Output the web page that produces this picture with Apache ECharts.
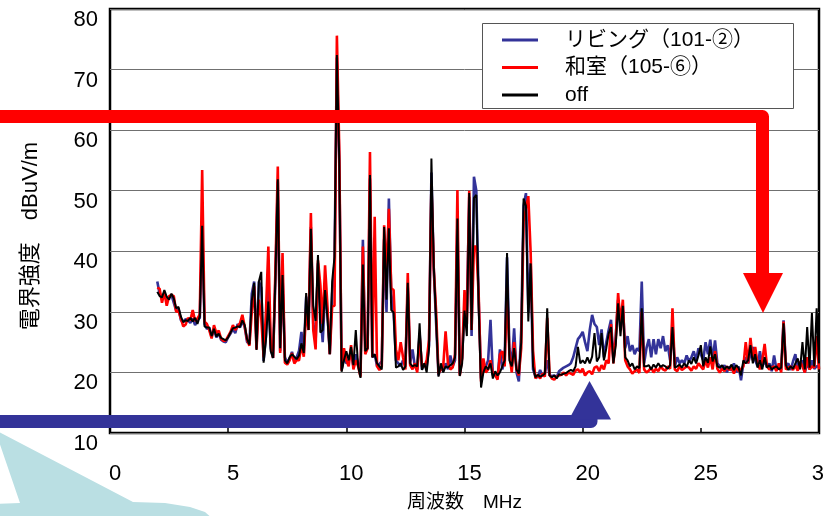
<!DOCTYPE html>
<html>
<head>
<meta charset="utf-8">
<script src="https://cdn.jsdelivr.net/npm/echarts@6/dist/echarts.min.js"></script>
<style>
  html, body { margin: 0; padding: 0; background: #fff; }
  #chart { width: 823px; height: 516px; }
</style>
</head>
<body>
<div id="chart"></div>
<script>
// Frequency points (MHz)
const freq = [
  2.0,2.1,2.2,2.3,2.4,2.5,2.6,2.7,2.8,2.9,
  3.0,3.1,3.2,3.3,3.4,3.5,3.6,3.7,3.8,3.9,
  4.0,4.1,4.2,4.3,4.4,4.5,4.6,4.7,4.8,4.9,
  5.0,5.1,5.2,5.3,5.4,5.5,5.6,5.7,5.8,5.9,
  6.0,6.1,6.2,6.3,6.4,6.5,6.6,6.7,6.8,6.9,
  7.0,7.1,7.2,7.3,7.4,7.5,7.6,7.7,7.8,7.9,
  8.0,8.1,8.2,8.3,8.4,8.5,8.6,8.7,8.8,8.9,
  9.0,9.1,9.2,9.3,9.4,9.5,9.6,9.7,9.8,9.9,
  10.0,10.1,10.2,10.3,10.4,10.5,10.6,10.7,10.8,10.9,
  11.0,11.1,11.2,11.3,11.4,11.5,11.6,11.7,11.8,11.9,
  12.0,12.1,12.2,12.3,12.4,12.5,12.6,12.7,12.8,12.9,
  13.0,13.1,13.2,13.3,13.4,13.5,13.6,13.7,13.8,13.9,
  14.0,14.1,14.2,14.3,14.4,14.5,14.6,14.7,14.8,14.9,
  15.0,15.1,15.2,15.3,15.4,15.5,15.6,15.7,15.8,15.9,
  16.0,16.1,16.2,16.3,16.4,16.5,16.6,16.7,16.8,16.9,
  17.0,17.1,17.2,17.3,17.4,17.5,17.6,17.7,17.8,17.9,
  18.0,18.1,18.2,18.3,18.4,18.5,18.6,18.7,18.8,18.9,
  19.0,19.1,19.2,19.3,19.4,19.5,19.6,19.7,19.8,19.9,
  20.0,20.1,20.2,20.3,20.4,20.5,20.6,20.7,20.8,20.9,
  21.0,21.1,21.2,21.3,21.4,21.5,21.6,21.7,21.8,21.9,
  22.0,22.1,22.2,22.3,22.4,22.5,22.6,22.7,22.8,22.9,
  23.0,23.1,23.2,23.3,23.4,23.5,23.6,23.7,23.8,23.9,
  24.0,24.1,24.2,24.3,24.4,24.5,24.6,24.7,24.8,24.9,
  25.0,25.1,25.2,25.3,25.4,25.5,25.6,25.7,25.8,25.9,
  26.0,26.1,26.2,26.3,26.4,26.5,26.6,26.7,26.8,26.9,
  27.0,27.1,27.2,27.3,27.4,27.5,27.6,27.7,27.8,27.9,
  28.0,28.1,28.2,28.3,28.4,28.5,28.6,28.7,28.8,28.9,
  29.0,29.1,29.2,29.3,29.4,29.5,29.6,29.7,29.8,29.9,
  30.0
];

// リビング（101-②） field strength, dBuV/m
const living = [
  35.0,33.0,32.6,32.8,32.0,32.4,32.8,31.5,30.2,30.5,
  28.6,28.4,28.8,28.6,28.2,28.9,27.8,28.7,29.0,44.5,
  28.0,27.2,27.4,25.9,27.1,25.8,26.5,25.4,25.1,25.0,
  25.8,26.4,27.2,26.5,28.0,27.4,28.5,27.5,25.0,24.8,
  33.0,35.0,24.0,35.0,34.0,21.9,26.0,35.0,24.0,22.4,
  35.5,51.5,23.5,36.0,22.5,21.6,22.3,23.4,21.7,22.5,
  23.6,26.7,23.0,32.5,27.0,44.0,28.0,25.0,38.0,30.0,
  25.0,33.0,30.0,23.0,33.0,38.0,72.0,55.0,20.5,22.5,
  21.5,22.0,23.0,21.0,23.0,21.5,19.8,41.9,23.5,24.0,
  52.0,22.5,23.0,21.0,21.4,21.8,42.0,30.0,48.7,33.0,
  30.0,22.0,21.5,21.0,22.0,21.2,34.0,21.5,23.8,21.0,
  20.4,26.5,20.5,21.4,21.0,24.5,53.0,37.0,28.0,19.5,
  21.0,20.2,21.5,20.5,22.8,21.0,22.0,45.0,19.8,22.5,
  31.0,30.0,49.0,26.0,52.3,50.0,32.0,19.0,20.5,21.0,
  22.0,28.7,19.5,20.0,19.0,23.8,20.5,22.0,39.0,24.0,
  21.0,27.3,20.0,18.5,27.0,47.5,49.6,30.0,38.0,20.5,
  19.3,19.2,20.4,19.4,19.8,22.0,19.5,19.4,19.5,19.2,
  20.2,20.5,20.8,21.0,21.2,21.5,22.5,24.0,25.5,26.0,
  26.7,25.0,23.5,27.0,29.5,28.0,27.5,24.5,27.1,22.5,
  25.0,27.0,28.7,22.0,26.0,32.0,27.0,31.0,24.0,26.0,
  23.5,24.5,23.0,24.0,23.5,35.0,21.5,24.0,25.5,22.5,
  25.5,23.0,25.5,24.0,26.0,23.5,24.5,22.0,28.0,21.0,
  22.5,21.5,22.0,21.5,22.8,21.8,22.5,23.5,22.0,24.0,
  23.0,22.0,25.0,23.0,25.4,22.0,25.3,21.5,21.0,20.5,
  21.2,20.0,21.0,20.3,21.5,20.0,21.0,18.7,21.5,22.5,
  21.5,23.0,24.2,22.0,21.0,23.5,21.0,22.0,20.8,21.5,
  20.2,22.8,20.5,21.0,20.4,28.6,21.0,21.5,20.4,21.8,
  23.0,20.5,21.2,22.0,20.0,21.5,20.5,22.0,20.6,21.0,
  21.0
];

// 和室（105-⑥） field strength, dBuV/m
const washitsu = [
  34.0,33.8,31.5,33.2,31.0,32.6,32.8,32.6,30.0,30.2,
  28.9,27.6,27.9,29.0,28.6,30.3,28.5,28.9,29.6,53.4,
  28.4,28.0,27.0,25.6,27.8,26.5,26.9,25.6,25.2,25.3,
  26.0,26.7,27.8,27.0,27.6,28.1,29.5,27.6,25.4,24.4,
  30.0,34.2,23.8,32.0,29.0,22.5,30.0,40.8,24.8,22.4,
  37.0,54.0,23.2,39.7,21.6,21.3,22.0,23.2,21.5,22.0,
  22.0,24.5,22.6,30.5,27.0,46.3,27.0,23.8,38.5,34.5,
  28.0,37.7,31.0,23.0,30.9,31.0,75.6,57.0,20.3,24.0,
  22.0,21.0,24.5,20.5,22.0,21.0,19.3,40.8,23.0,24.0,
  56.4,22.5,45.7,21.0,20.4,21.0,44.3,36.0,47.0,33.9,
  33.6,23.8,22.0,25.0,22.5,20.5,36.4,21.2,20.5,21.5,
  20.0,26.0,21.0,21.0,22.0,25.4,51.0,37.1,30.0,19.8,
  20.5,21.0,26.8,21.5,20.5,20.8,23.0,50.1,19.5,22.3,
  33.6,28.0,50.0,27.0,40.8,40.8,32.8,18.5,22.3,20.0,
  20.5,22.0,19.8,19.5,18.8,23.0,23.5,21.0,34.0,23.0,
  20.0,25.0,20.5,19.5,24.0,45.0,47.0,49.1,39.7,23.6,
  19.0,19.6,19.0,19.8,19.3,29.0,19.6,19.0,18.8,19.3,
  19.5,19.6,20.0,19.5,20.0,19.8,19.6,20.3,20.5,20.0,
  20.6,19.5,20.0,20.2,19.7,20.8,21.0,20.2,21.2,20.5,
  22.0,21.5,28.0,21.5,25.5,33.1,28.0,32.0,22.0,21.0,
  20.5,19.8,20.2,20.5,19.9,30.0,20.5,20.0,20.3,20.8,
  20.0,20.6,20.2,21.0,20.5,20.3,21.0,20.6,30.6,20.5,
  20.2,21.0,20.4,20.7,21.0,20.8,20.3,21.0,20.6,21.5,
  21.0,20.5,22.0,20.8,22.5,20.5,23.5,20.6,20.0,20.6,
  20.2,21.0,20.4,20.8,19.8,21.0,20.2,20.5,21.0,25.0,
  21.5,25.7,22.0,24.2,21.5,20.5,22.0,24.7,21.0,20.5,
  20.8,21.0,20.2,21.5,20.0,28.4,20.5,20.8,21.0,20.4,
  21.2,20.3,21.8,21.0,20.0,22.5,20.5,21.0,20.8,26.0,
  20.5
];

// off (background) field strength, dBuV/m
const off = [
  33.3,32.6,32.4,33.6,32.5,32.0,33.0,32.2,30.6,30.8,
  29.2,28.3,28.6,28.5,29.0,28.4,29.0,28.0,29.3,44.2,
  27.6,27.4,27.4,26.0,27.2,25.9,26.4,25.7,25.5,25.3,
  25.8,26.6,27.3,27.4,27.6,27.5,28.6,27.8,25.5,24.6,
  31.8,34.8,23.7,35.0,36.6,21.6,25.5,31.7,23.5,22.4,
  35.8,51.9,24.0,36.1,22.0,21.5,22.5,23.0,22.6,22.2,
  22.8,24.8,23.2,33.1,27.0,43.7,31.0,28.5,39.4,26.6,
  27.0,33.6,29.0,23.0,35.0,39.1,72.4,55.1,20.1,22.0,
  23.5,22.0,24.2,21.2,27.0,21.0,19.1,37.8,23.5,24.0,
  52.6,22.5,23.0,21.5,21.0,20.5,44.0,32.0,43.8,30.3,
  29.9,20.8,21.0,21.5,20.4,21.0,34.8,21.5,21.0,21.2,
  21.0,28.1,20.4,21.5,20.0,24.0,55.3,37.5,28.6,19.3,
  21.5,20.0,21.0,20.8,21.2,21.5,22.5,45.4,19.4,21.5,
  30.2,26.0,49.6,27.0,48.8,49.3,30.9,17.5,20.0,21.0,
  20.5,21.5,19.0,20.2,19.5,20.0,21.0,22.0,39.7,22.0,
  21.0,24.0,20.5,19.8,25.0,48.7,47.5,28.4,38.0,21.0,
  19.2,19.6,19.3,19.5,19.8,30.6,19.5,19.2,19.5,19.0,
  19.7,19.6,19.8,19.9,20.2,20.4,20.2,21.0,24.2,21.5,
  22.0,21.5,22.5,21.5,22.6,26.5,21.8,22.5,26.5,22.0,
  24.0,26.4,27.5,21.5,24.5,31.4,26.0,31.0,22.5,22.0,
  21.0,21.5,20.5,21.0,20.7,30.6,21.0,21.0,21.2,20.5,
  21.3,20.8,21.5,20.9,21.2,21.0,20.6,21.2,27.5,20.8,
  21.0,21.3,20.8,21.5,20.9,22.0,21.4,22.5,21.5,22.8,
  24.5,21.0,22.5,21.6,24.3,21.8,23.0,21.0,20.8,21.2,
  20.5,21.0,20.6,21.3,20.4,21.2,20.7,19.5,22.0,21.5,
  22.0,24.5,21.5,23.0,20.8,22.0,20.5,22.5,20.8,21.2,
  20.5,20.8,21.0,20.5,20.8,28.1,21.2,20.4,21.0,20.6,
  21.5,22.3,20.5,25.0,20.5,27.5,20.8,29.8,21.0,30.6,
  21.5
];

const seriesNames = ['リビング（101-②）', '和室（105-⑥）', 'off'];
const seriesColors = ['#333399', '#ff0000', '#000000'];
const xTicks = [0, 5, 10, 15, 20, 25, 30];
const yTicks = [10, 20, 30, 40, 50, 60, 70, 80];

const LATIN = "'Liberation Sans', Arial, 'Noto Sans CJK JP', sans-serif";
const pairs = vals => freq.map((f, i) => [f, vals[i]]);

const chart = echarts.init(document.getElementById('chart'), null, { renderer: 'canvas' });

chart.setOption({
  animation: false,
  backgroundColor: '#ffffff',
  grid: {
    left: 110, right: 4, top: 9, bottom: 83,
    containLabel: false, outerBoundsMode: 'none',
    show: true, borderColor: '#000', borderWidth: 2.5, backgroundColor: '#fff'
  },
  legend: {
    orient: 'vertical',
    left: 482, top: 24,
    padding: [4, 10, 2, 20],
    itemWidth: 36, itemHeight: 3, itemGap: 3.5,
    icon: 'rect',
    data: seriesNames,
    textStyle: { fontFamily: LATIN, fontSize: 21, lineHeight: 24, color: '#000', padding: [0, 0, 0, 22] },
    z: 10
  },
  xAxis: {
    type: 'value',
    min: xTicks[0], max: xTicks[xTicks.length - 1], interval: 5,
    name: '周波数　MHz',
    nameLocation: 'middle', nameGap: 60,
    nameTextStyle: { fontFamily: LATIN, fontSize: 19, color: '#000' },
    axisLine: { show: false },
    axisTick: { show: true, inside: true, length: 5, lineStyle: { color: '#000', width: 1.5 } },
    axisLabel: {
      fontFamily: LATIN, fontSize: 22, color: '#000', margin: 30,
      padding: [0, 0, 0, 10], showMinLabel: true, showMaxLabel: true
    },
    splitLine: { show: false }
  },
  yAxis: {
    type: 'value',
    min: yTicks[0], max: yTicks[yTicks.length - 1], interval: 10,
    name: '電界強度　dBuV/m',
    nameLocation: 'middle', nameGap: 68, nameRotate: 90,
    nameTextStyle: { fontFamily: LATIN, fontSize: 22, color: '#000', padding: [0, 30, 0, 0] },
    axisLine: { show: false },
    axisTick: { show: false },
    axisLabel: {
      fontFamily: LATIN, fontSize: 22, color: '#000', margin: 12,
      verticalAlign: 'top', showMinLabel: true, showMaxLabel: true
    },
    splitLine: { show: true, lineStyle: { color: '#707070', width: 1 } }
  },
  series: [
    { name: seriesNames[0], type: 'line', data: pairs(living), showSymbol: false,
      color: seriesColors[0], lineStyle: { color: seriesColors[0], width: 2.6 }, z: 2 },
    { name: seriesNames[1], type: 'line', data: pairs(washitsu), showSymbol: false,
      color: seriesColors[1], lineStyle: { color: seriesColors[1], width: 2.6 }, z: 3 },
    { name: seriesNames[2], type: 'line', data: pairs(off), showSymbol: false,
      color: seriesColors[2], lineStyle: { color: seriesColors[2], width: 2 }, z: 4 }
  ],
  graphic: [
    // legend frame
    { type: 'rect', z: 5, shape: { x: 482.5, y: 23.5, width: 311, height: 85 },
      style: { fill: '#ffffff', stroke: '#555555', lineWidth: 1 } },
    // red callout arrow
    { type: 'polyline', z: 100, shape: { points: [[-10, 116.5], [762.5, 116.5], [762.5, 276]] },
      style: { stroke: '#ff0000', lineWidth: 13, lineJoin: 'round', fill: null } },
    { type: 'polygon', z: 100, shape: { points: [[743, 273], [783, 273], [763, 313]] },
      style: { fill: '#ff0000' } },
    // blue callout arrow
    { type: 'polyline', z: 100, shape: { points: [[-10, 421.5], [591, 421.5], [591, 414]] },
      style: { stroke: '#333399', lineWidth: 13, lineJoin: 'round', fill: null } },
    { type: 'polygon', z: 100, shape: { points: [[589.5, 381], [611, 419.5], [569, 419.5]] },
      style: { fill: '#333399' } },
    // pale speech-bubble shape in the lower-left corner
    { type: 'polygon', z: 90,
      shape: { points: [[-5, 430], [133, 502], [165, 503], [190, 507], [205, 512], [214, 520], [-10, 520], [-10, 504], [20, 503]] },
      style: { fill: '#badfe3' } }
  ]
});
</script>
</body>
</html>
